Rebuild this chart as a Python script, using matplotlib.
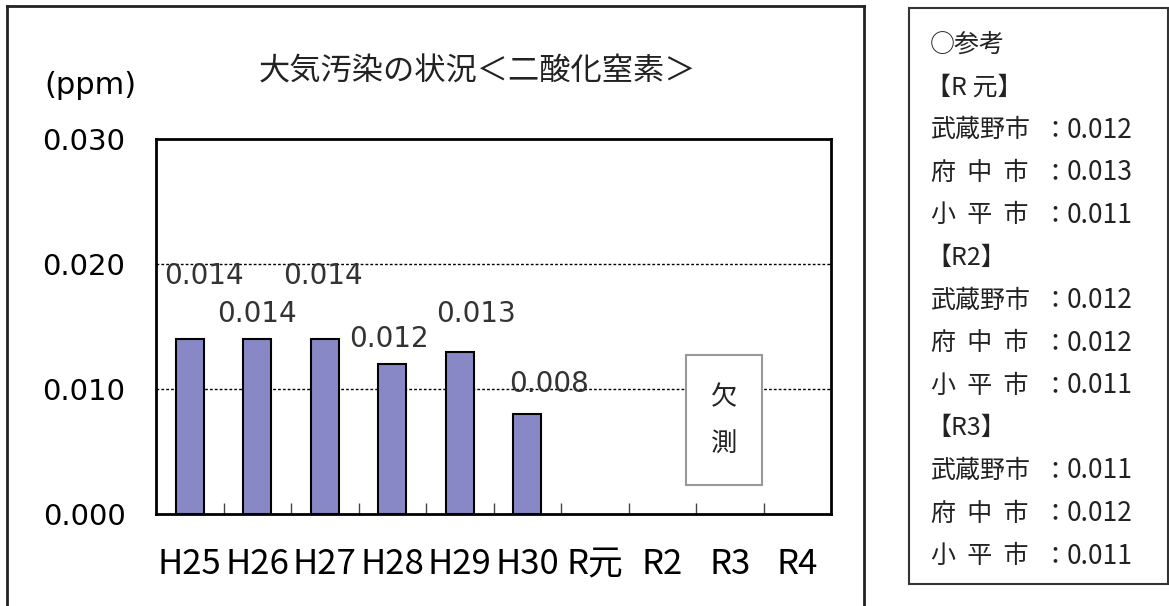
import numpy as np
import matplotlib
matplotlib.use("Agg")
import matplotlib.pyplot as plt
from matplotlib.patches import Rectangle
from matplotlib.lines import Line2D

# 年度と二酸化窒素の年平均値 (ppm)
years = ["H25", "H26", "H27", "H28", "H29", "H30", "R元", "R2", "R3", "R4"]
no2 = [0.014, 0.014, 0.014, 0.012, 0.013, 0.008]

# 参考値（近隣市）
ref_title = "○参考"
ref_years = ["【R 元】", "【R2】", "【R3】"]
ref_cities = ["武蔵野市", "府  中  市", "小  平  市"]
ref_values = [[0.012, 0.013, 0.011],
              [0.012, 0.012, 0.011],
              [0.011, 0.012, 0.011]]

# ラベル位置のずれ (pixel)
label_offsets = [(14, 63), (0, 25), (-2, 63), (-3, 25), (16, 37), (22, 30)]

W, H = 1169, 606
fig = plt.figure(figsize=(W / 100, H / 100), dpi=100)

def fx(px):
    return px / W

def fy(py):
    return 1 - py / H

# 外枠
frame_kw = dict(color="#222222", lw=2, transform=fig.transFigure)
fig.add_artist(Line2D([fx(7), fx(7)], [fy(6), 0], **frame_kw))
fig.add_artist(Line2D([fx(7), fx(864)], [fy(6), fy(6)], **frame_kw))
fig.add_artist(Line2D([fx(864), fx(864)], [fy(6), 0], **frame_kw))

ax = fig.add_axes([fx(156), fy(514), fx(831) - fx(156), fy(139) - fy(514)])
x = np.arange(len(years))
ax.bar(x[:len(no2)], no2, width=0.41, color="#8888c6", edgecolor="black",
       linewidth=1.5, zorder=3)

ax.set_xlim(-0.5, len(years) - 0.5)
ax.set_ylim(0, 0.03)
ax.set_yticks([0, 0.01, 0.02, 0.03])
ax.set_yticklabels(["%.3f" % v for v in [0, 0.01, 0.02, 0.03]],
                   fontsize=21, family="DejaVu Sans")
ax.tick_params(axis="y", length=0, pad=22)
ax.set_xticks(x)
ax.set_xticklabels(years, fontsize=25, family=["Noto Sans CJK JP", "DejaVu Sans"])
ax.tick_params(axis="x", length=0, pad=24)
ax.set_xticks(np.arange(0.5, len(years) - 1, 1), minor=True)
ax.tick_params(axis="x", which="minor", direction="in", length=8, width=1,
               color="#444444")
for v in [0.01, 0.02]:
    ax.axhline(v, color="black", lw=1, ls=(0, (2, 1.5)), zorder=1)
for s in ax.spines.values():
    s.set_linewidth(2)
    s.set_zorder(4)

for i, v in enumerate(no2):
    dx, dy = label_offsets[i]
    ax.annotate("%.3f" % v, (x[i], v), xytext=(dx, dy), textcoords="offset pixels",
                ha="center", va="center", fontsize=20, family="DejaVu Sans",
                color="#333333", zorder=5)

# 欠測
ax.add_patch(Rectangle((7.35, 0.0023), 1.13, 0.0104, facecolor="white",
                       edgecolor="#999999", lw=1.5, zorder=4))
ax.text(7.915, 0.0075, "欠\n測", ha="center", va="center", fontsize=19,
        family="Noto Sans CJK JP", color="#222222", linespacing=1.9, zorder=5)

fig.text(fx(477), fy(72), "大気汚染の状況＜二酸化窒素＞", ha="center", va="center",
         fontsize=22.5, family="Noto Sans CJK JP", color="#222222")
fig.text(fx(90), fy(86), "(ppm)", ha="center", va="center", fontsize=22,
         family="DejaVu Sans")

# 参考欄
fig.add_artist(Rectangle((fx(909), fy(584)), fx(1168) - fx(909), fy(8) - fy(584),
                         transform=fig.transFigure, facecolor="none",
                         edgecolor="#333333", lw=1.5))
tkw = dict(fontsize=18, family=["Noto Sans CJK JP", "DejaVu Sans"],
           color="#222222", va="center")
y0, step = 45, 42.6
fig.text(fx(930), fy(y0), ref_title, **tkw)
row = 1
for yr, vals in zip(ref_years, ref_values):
    fig.text(fx(926), fy(y0 + step * row), yr, **tkw)
    row += 1
    for city, v in zip(ref_cities, vals):
        yy = fy(y0 + step * row)
        fig.text(fx(931), yy, city, **tkw)
        fig.text(fx(1055), yy, "：", ha="center", **tkw)
        fig.text(fx(1067), yy, "%.3f" % v, fontsize=19,
                 family="Noto Sans CJK JP", color="#222222", va="center")
        row += 1

fig.savefig("out.png", dpi=100)
